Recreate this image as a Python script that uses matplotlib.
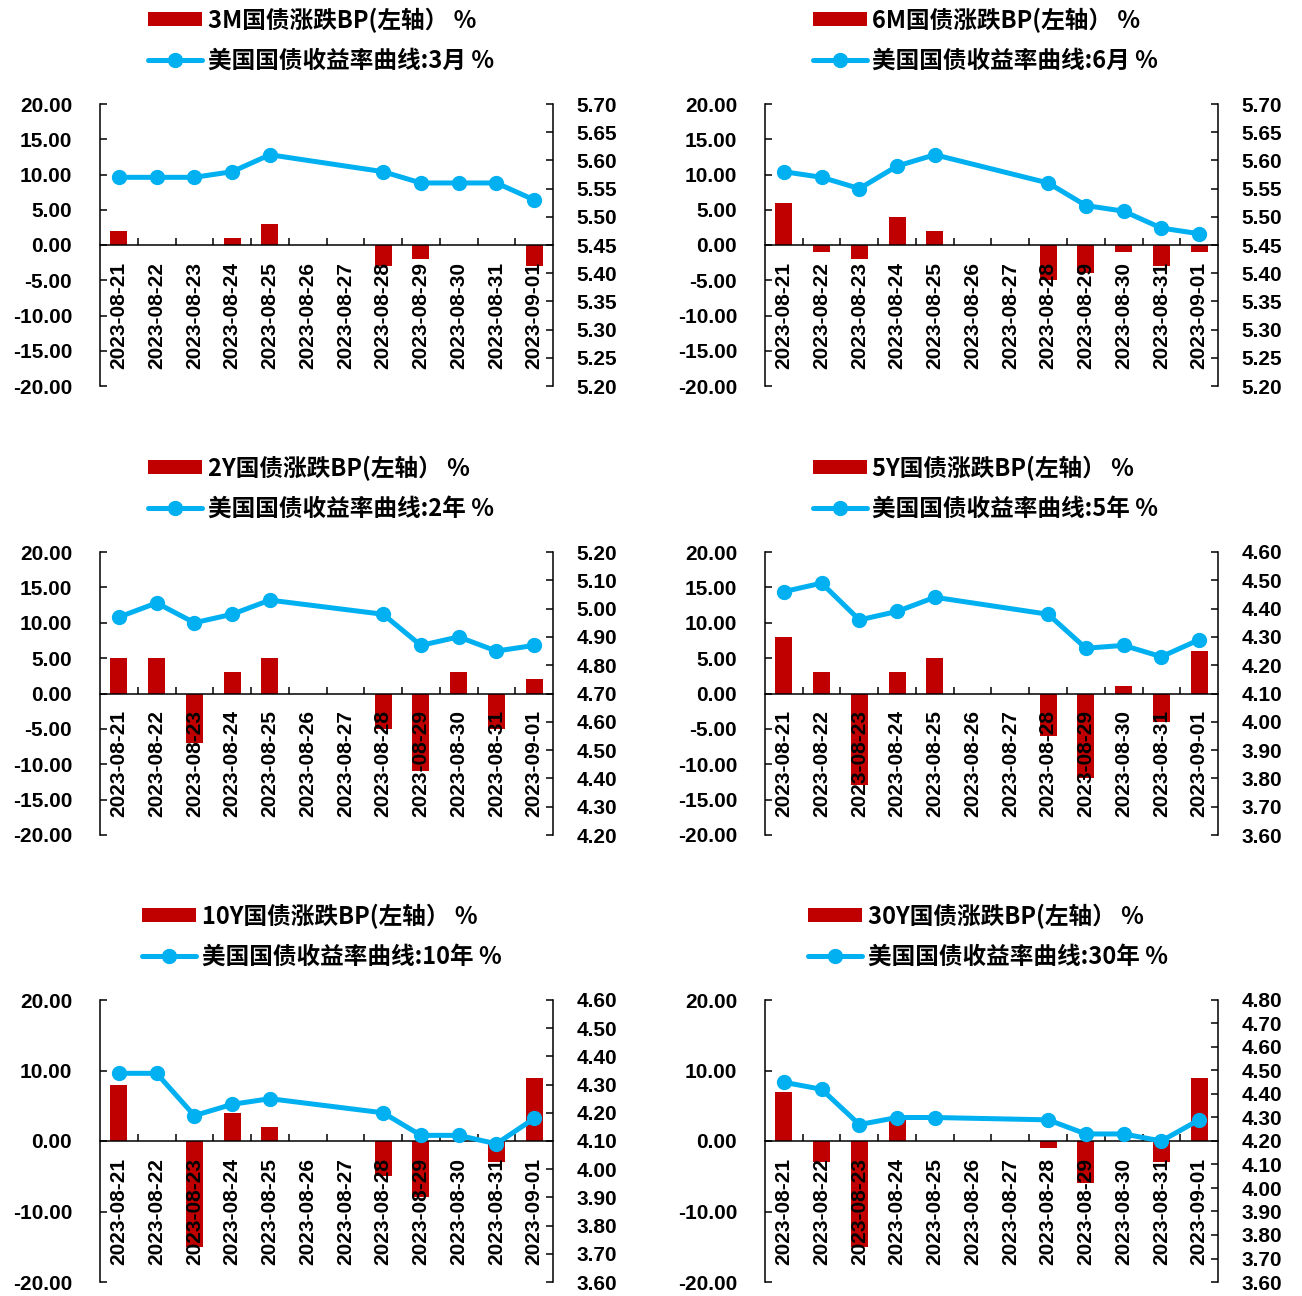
import numpy as np
import matplotlib
matplotlib.use("Agg")
import matplotlib.pyplot as plt
from matplotlib import font_manager as fm
from matplotlib.ticker import FormatStrFormatter, FixedLocator

# ---- data -------------------------------------------------------------
dates = ['2023-08-21', '2023-08-22', '2023-08-23', '2023-08-24', '2023-08-25',
         '2023-08-26', '2023-08-27', '2023-08-28', '2023-08-29', '2023-08-30',
         '2023-08-31', '2023-09-01']
nan = np.nan

bp_3m = [2, 0, 0, 1, 3, nan, nan, -3, -2, 0, 0, -3]
yld_3m = [5.57, 5.57, 5.57, 5.58, 5.61, nan, nan, 5.58, 5.56, 5.56, 5.56, 5.53]

bp_6m = [6, -1, -2, 4, 2, nan, nan, -5, -4, -1, -3, -1]
yld_6m = [5.58, 5.57, 5.55, 5.59, 5.61, nan, nan, 5.56, 5.52, 5.51, 5.48, 5.47]

bp_2y = [5, 5, -7, 3, 5, nan, nan, -5, -11, 3, -5, 2]
yld_2y = [4.97, 5.02, 4.95, 4.98, 5.03, nan, nan, 4.98, 4.87, 4.90, 4.85, 4.87]

bp_5y = [8, 3, -13, 3, 5, nan, nan, -6, -12, 1, -4, 6]
yld_5y = [4.46, 4.49, 4.36, 4.39, 4.44, nan, nan, 4.38, 4.26, 4.27, 4.23, 4.29]

bp_10y = [8, 0, -15, 4, 2, nan, nan, -5, -8, 0, -3, 9]
yld_10y = [4.34, 4.34, 4.19, 4.23, 4.25, nan, nan, 4.20, 4.12, 4.12, 4.09, 4.18]

bp_30y = [7, -3, -15, 3, 0, nan, nan, -1, -6, 0, -3, 9]
yld_30y = [4.45, 4.42, 4.27, 4.30, 4.30, nan, nan, 4.29, 4.23, 4.23, 4.20, 4.29]

bar_labels = ['3M国债涨跌BP(左轴） %', '6M国债涨跌BP(左轴） %', '2Y国债涨跌BP(左轴） %',
              '5Y国债涨跌BP(左轴） %', '10Y国债涨跌BP(左轴） %', '30Y国债涨跌BP(左轴） %']
line_labels = ['美国国债收益率曲线:3月 %', '美国国债收益率曲线:6月 %', '美国国债收益率曲线:2年 %',
               '美国国债收益率曲线:5年 %', '美国国债收益率曲线:10年 %', '美国国债收益率曲线:30年 %']

left_ticks = [np.arange(-20, 20.1, 5), np.arange(-20, 20.1, 5), np.arange(-20, 20.1, 5),
              np.arange(-20, 20.1, 5), np.arange(-20, 20.1, 10), np.arange(-20, 20.1, 10)]
right_ranges = [(5.20, 5.70, 0.05), (5.20, 5.70, 0.05), (4.20, 5.20, 0.10),
                (3.60, 4.60, 0.10), (3.60, 4.60, 0.10), (3.60, 4.80, 0.10)]

bp_series = [bp_3m, bp_6m, bp_2y, bp_5y, bp_10y, bp_30y]
yld_series = [yld_3m, yld_6m, yld_2y, yld_5y, yld_10y, yld_30y]

# ---- styling ----------------------------------------------------------
names = {f.name for f in fm.fontManager.ttflist}
num_font = 'Liberation Sans' if 'Liberation Sans' in names else 'DejaVu Sans'
cjk_font = ['Noto Sans CJK SC', 'DejaVu Sans']

BAR_C = '#C00000'
LINE_C = '#00B0F0'
W, H = 1302, 1296

fig = plt.figure(figsize=(W / 100, H / 100), dpi=100)

col_x = [(100, 553), (765, 1218)]
row_y = [(104, 386), (552, 835), (1000, 1282)]
legend_xy = [(148, 40), (813, 40), (148, 488), (813, 488), (142, 936), (808, 936)]

x = np.arange(len(dates))

for i in range(6):
    r, c = divmod(i, 2)
    x0, x1 = col_x[c]
    y0, y1 = row_y[r]
    ax = fig.add_axes([x0 / W, 1 - y1 / H, (x1 - x0) / W, (y1 - y0) / H])
    ax2 = ax.twinx()

    bp = np.array(bp_series[i], dtype=float)
    yl = np.array(yld_series[i], dtype=float)

    bars = ax.bar(x, np.nan_to_num(bp), width=0.45, color=BAR_C, zorder=1,
                  label=bar_labels[i])
    ok = ~np.isnan(yl)
    line, = ax2.plot(x[ok], yl[ok], color=LINE_C, lw=3.6, marker='o',
                     markersize=10, solid_capstyle='round', label=line_labels[i],
                     zorder=3)

    ax.set_xlim(-0.5, len(dates) - 0.5)
    ax.set_ylim(-20, 20)
    lo, hi, st = right_ranges[i]
    ax2.set_ylim(lo, hi)

    # left axis
    ax.yaxis.set_major_locator(FixedLocator(left_ticks[i]))
    ax.yaxis.set_major_formatter(FormatStrFormatter('%.2f'))
    ax.tick_params(axis='y', direction='in', length=5, width=1.1, pad=20,
                   labelsize=15)
    # right axis
    ax2.yaxis.set_major_locator(FixedLocator(np.arange(lo, hi + st / 2, st)))
    ax2.yaxis.set_major_formatter(FormatStrFormatter('%.2f'))
    ax2.tick_params(axis='y', direction='in', length=5, width=1.1, pad=17,
                    labelsize=15)

    # category axis sits on the zero line
    ax.spines['bottom'].set_position(('data', 0))
    ax.set_xticks(x)
    ax.set_xticklabels(dates, rotation=90)
    ax.set_xticks(np.arange(0.5, len(dates) - 1, 1.0), minor=True)
    ax.tick_params(axis='x', which='major', length=0, pad=12, labelsize=15)
    ax.tick_params(axis='x', which='minor', direction='in', length=5, width=1.1)

    for s in ['top', 'right']:
        ax.spines[s].set_visible(False)
    for s in ['top', 'left', 'bottom']:
        ax2.spines[s].set_visible(False)
    for sp in (ax.spines['left'], ax.spines['bottom'], ax2.spines['right']):
        sp.set_linewidth(1.1)

    for lab in ax.get_xticklabels() + ax.get_yticklabels() + ax2.get_yticklabels():
        lab.set_fontfamily(num_font)
        lab.set_fontweight('bold')

    lx, ly = legend_xy[i]
    fig.legend([bars, line], [bar_labels[i], line_labels[i]],
               loc='center left', bbox_to_anchor=(lx / W, 1 - ly / H),
               bbox_transform=fig.transFigure, frameon=False,
               prop={'family': cjk_font, 'weight': 'bold', 'size': 17},
               handlelength=2.3, handleheight=0.5, handletextpad=0.22,
               labelspacing=0.68, borderpad=0, borderaxespad=0, numpoints=1)

fig.savefig('out.png', dpi=100)
